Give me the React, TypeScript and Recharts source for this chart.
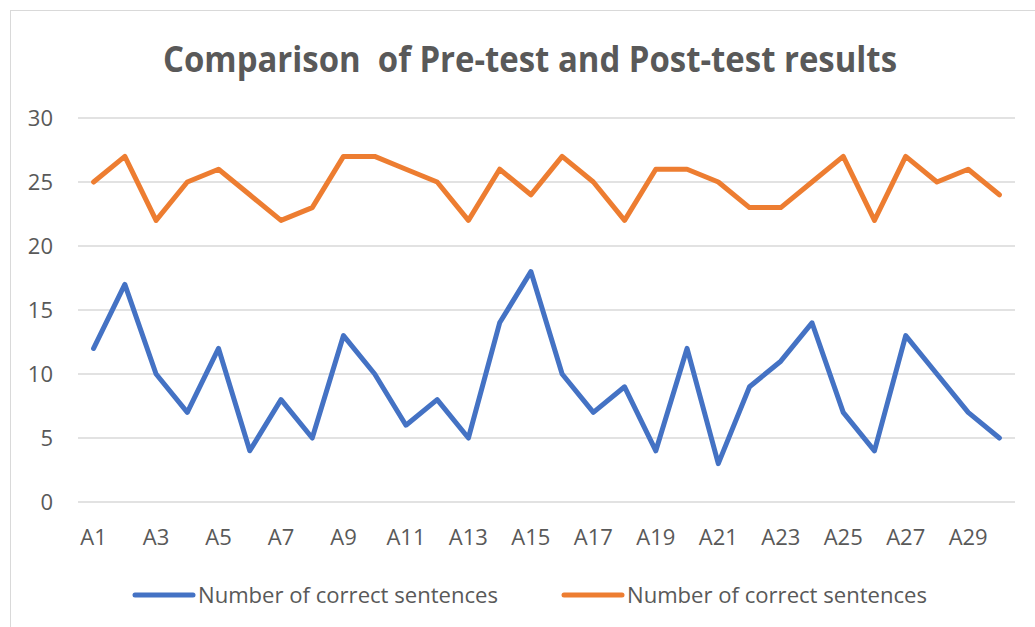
import { LineChart, Line, XAxis, YAxis, CartesianGrid } from "recharts";

const categories = [
  "A1", "A2", "A3", "A4", "A5", "A6", "A7", "A8", "A9", "A10",
  "A11", "A12", "A13", "A14", "A15", "A16", "A17", "A18", "A19", "A20",
  "A21", "A22", "A23", "A24", "A25", "A26", "A27", "A28", "A29", "A30",
];

// pre-test (blue)
const preTest = [12, 17, 10, 7, 12, 4, 8, 5, 13, 10, 6, 8, 5, 14, 18, 10, 7, 9, 4, 12, 3, 9, 11, 14, 7, 4, 13, 10, 7, 5];

// post-test (orange)
const postTest = [25, 27, 22, 25, 26, 24, 22, 23, 27, 27, 26, 25, 22, 26, 24, 27, 25, 22, 26, 26, 25, 23, 23, 25, 27, 22, 27, 25, 26, 24];

const yTicks = [0, 5, 10, 15, 20, 25, 30];

const series = [
  { key: "pre", name: "Number of correct sentences", color: "#4472C4" },
  { key: "post", name: "Number of correct sentences", color: "#ED7D31" },
];

const data = categories.map((c, i) => ({ name: c, pre: preTest[i], post: postTest[i] }));

const textColor = "#595959";
const font = "'Open Sans', sans-serif";

const App = () => {
  return (
    <div style={{ position: "absolute", left: 0, top: 0, width: 1035, height: 627, background: "#fff", overflow: "hidden", fontFamily: font }}>
      {/* chart frame */}
      <div style={{ position: "absolute", left: 10, top: 10, width: 1100, height: 700, borderLeft: "1.5px solid #d9d9d9", borderTop: "1.5px solid #d9d9d9" }} />

      <LineChart
        width={1035}
        height={627}
        data={data}
        margin={{ top: 118, right: 20, bottom: 95, left: 0 }}
        style={{ position: "absolute", left: 0, top: 0 }}
      >
        <CartesianGrid vertical={false} stroke="#d9d9d9" strokeWidth={1.5} />
        <XAxis
          dataKey="name"
          interval={1}
          height={30}
          padding={{ left: 15.6, right: 15.6 }}
          axisLine={false}
          tickLine={false}
          tickSize={0}
          tickMargin={27}
          tick={{ fill: textColor, fontSize: 22, fontFamily: font }}
        />
        <YAxis
          width={78}
          domain={[0, 30]}
          ticks={yTicks}
          axisLine={false}
          tickLine={false}
          tickSize={0}
          tickMargin={25}
          tick={{ fill: textColor, fontSize: 22, fontFamily: font }}
        />
        {series.map((s) => (
          <Line
            key={s.key}
            type="linear"
            dataKey={s.key}
            name={s.name}
            stroke={s.color}
            strokeWidth={5}
            strokeLinejoin="round"
            strokeLinecap="round"
            dot={false}
            activeDot={false}
            isAnimationActive={false}
          />
        ))}
      </LineChart>

      <svg width={1035} height={627} style={{ position: "absolute", left: 0, top: 0, pointerEvents: "none" }}>
        <text
          x={530}
          y={72}
          textAnchor="middle"
          fill={textColor}
          fontSize={36}
          fontWeight={700}
          fontFamily={font}
          textLength={734}
          lengthAdjust="spacingAndGlyphs"
          style={{ whiteSpace: "pre" }}
        >
          {"Comparison  of Pre-test and Post-test results"}
        </text>

        {/* legend */}
        {series.map((s, i) => {
          const x0 = i === 0 ? 135 : 564;
          return (
            <g key={s.key}>
              <line x1={x0} y1={595} x2={x0 + 58} y2={595} stroke={s.color} strokeWidth={5} strokeLinecap="round" />
              <text x={x0 + 63} y={603} fill={textColor} fontSize={22} fontFamily={font} textLength={300} lengthAdjust="spacingAndGlyphs">
                {s.name}
              </text>
            </g>
          );
        })}
      </svg>
    </div>
  );
};

export default App;
